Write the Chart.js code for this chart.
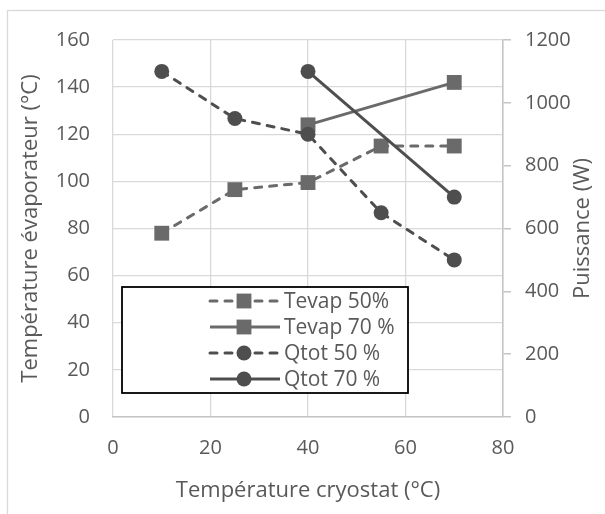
<!DOCTYPE html>
<html><head><meta charset="utf-8">
<script src="https://cdn.jsdelivr.net/npm/chart.js@4/dist/chart.umd.min.js"></script>
<style>html,body{margin:0;padding:0;background:#fff}#wrap{width:605px;height:514px;position:relative}</style>
</head><body><div id="wrap"><canvas id="c" width="605" height="514"></canvas></div>
<script>
// ---- data ----
const xCryostat50 = [10, 25, 40, 55, 70];
const xCryostat70 = [40, 70];
const tevap50 = [78, 96.5, 99.5, 115, 115];
const tevap70 = [124, 142];
const qtot50 = [1100, 950, 900, 650, 500];
const qtot70 = [1100, 700];
const seriesNames = ['Tevap 50%', 'Tevap 70 %', 'Qtot 50 %', 'Qtot 70 %'];
const xTitle = 'Température cryostat (°C)';
const yTitle = 'Température évaporateur (°C)';
const y1Title = 'Puissance (W)';

const FONT = "'Open Sans', sans-serif";
const TXT = '#595959';
const GRID = '#d9d9d9';
const AXIS = '#c4c4c4';
const C_T = '#6a6a6a';
const C_Q = '#4e4e4e';

function pts(xs, ys) { return xs.map((x, i) => ({ x: x, y: ys[i] })); }

const datasets = [
  { label: seriesNames[0], data: pts(xCryostat50, tevap50), yAxisID: 'y', order: 4,
    borderColor: C_T, backgroundColor: C_T, borderWidth: 3, borderDash: [7, 8], borderCapStyle: 'round',
    pointStyle: 'rect', pointRadius: 10.5, pointBorderWidth: 0, pointBackgroundColor: C_T },
  { label: seriesNames[1], data: pts(xCryostat70, tevap70), yAxisID: 'y', order: 3,
    borderColor: C_T, backgroundColor: C_T, borderWidth: 3,
    pointStyle: 'rect', pointRadius: 10.5, pointBorderWidth: 0, pointBackgroundColor: C_T },
  { label: seriesNames[2], data: pts(xCryostat50, qtot50), yAxisID: 'y1', order: 2,
    borderColor: C_Q, backgroundColor: C_Q, borderWidth: 3, borderDash: [7, 8], borderCapStyle: 'round',
    pointStyle: 'circle', pointRadius: 7.5, pointBorderWidth: 0, pointBackgroundColor: C_Q },
  { label: seriesNames[3], data: pts(xCryostat70, qtot70), yAxisID: 'y1', order: 1,
    borderColor: C_Q, backgroundColor: C_Q, borderWidth: 3,
    pointStyle: 'circle', pointRadius: 7.5, pointBorderWidth: 0, pointBackgroundColor: C_Q }
];

const decor = {
  id: 'decor',
  beforeDraw(chart) {
    const ctx = chart.ctx;
    ctx.save();
    ctx.fillStyle = '#fff';
    ctx.fillRect(0, 0, chart.width, chart.height);
    ctx.strokeStyle = '#d9d9d9';
    ctx.lineWidth = 1.3;
    ctx.strokeRect(7.5, 10.5, 620, 520);
    ctx.restore();
  },
  afterDraw(chart) {
    const ctx = chart.ctx;
    const ca = chart.chartArea;
    ctx.save();
    ctx.fillStyle = TXT;
    ctx.font = '22px ' + FONT;
    ctx.textAlign = 'center';
    ctx.textBaseline = 'middle';
    // x title
    ctx.fillText(xTitle, (ca.left + ca.right) / 2, 491);
    // left title
    ctx.save();
    ctx.translate(31, (ca.top + ca.bottom) / 2);
    ctx.rotate(-Math.PI / 2);
    ctx.fillText(yTitle, 0, 0);
    ctx.restore();
    // right title (reads bottom to top)
    ctx.save();
    ctx.translate(583, (ca.top + ca.bottom) / 2);
    ctx.rotate(-Math.PI / 2);
    ctx.fillText(y1Title, 0, 0);
    ctx.restore();

    // legend
    const bx = 122, by = 287, bw = 286, bh = 106;
    ctx.fillStyle = '#fff';
    ctx.fillRect(bx, by, bw, bh);
    ctx.strokeStyle = '#000';
    ctx.lineWidth = 1.8;
    ctx.strokeRect(bx, by, bw, bh);
    chart.data.datasets.forEach((ds, i) => {
      const y = 301 + 26 * i;
      ctx.save();
      ctx.strokeStyle = ds.borderColor;
      ctx.lineWidth = ds.borderWidth;
      ctx.lineCap = ds.borderCapStyle || 'butt';
      ctx.setLineDash(ds.borderDash || []);
      ctx.beginPath();
      ctx.moveTo(210, y);
      ctx.lineTo(280, y);
      ctx.stroke();
      ctx.setLineDash([]);
      ctx.fillStyle = ds.pointBackgroundColor;
      ctx.strokeStyle = ds.pointBackgroundColor;
      Chart.helpers.drawPoint(ctx, { pointStyle: ds.pointStyle, radius: ds.pointRadius, rotation: 0, borderWidth: 0 }, 244, y);
      ctx.restore();
      ctx.fillStyle = TXT;
      ctx.font = '21px ' + FONT;
      ctx.textAlign = 'left';
      ctx.textBaseline = 'middle';
      ctx.fillText(ds.label, 284, y + 1);
    });
    ctx.restore();
  }
};

new Chart(document.getElementById('c'), {
  type: 'line',
  data: { datasets: datasets },
  options: {
    responsive: false,
    animation: false,
    devicePixelRatio: 1,
    layout: { padding: { top: 40, left: 0, right: 0, bottom: 0 } },
    plugins: { legend: { display: false }, tooltip: { enabled: false } },
    scales: {
      x: {
        type: 'linear', min: 0, max: 80,
        ticks: { stepSize: 20, color: TXT, font: { family: FONT, size: 20 }, padding: 19, callback: v => String(v) },
        grid: { color: GRID, lineWidth: 1.3, drawTicks: false },
        border: { display: true, color: AXIS, width: 1.5 },
        afterFit: s => { s.height = 97; }
      },
      y: {
        position: 'left', min: 0, max: 160,
        ticks: { stepSize: 20, color: TXT, font: { family: FONT, size: 20 }, padding: 23, callback: v => String(v) },
        grid: { color: GRID, lineWidth: 1.3, drawTicks: false },
        border: { display: false },
        afterFit: s => { s.width = 113; }
      },
      y1: {
        position: 'right', min: 0, max: 1200,
        ticks: { stepSize: 200, color: TXT, font: { family: FONT, size: 20 }, padding: 14, callback: v => String(v) },
        grid: { drawOnChartArea: false, drawTicks: true, tickLength: 8, color: AXIS, lineWidth: 1.5 },
        border: { display: true, color: AXIS, width: 1.5 },
        afterFit: s => { s.width = 102; }
      }
    }
  },
  plugins: [decor]
});
</script>
</body></html>
